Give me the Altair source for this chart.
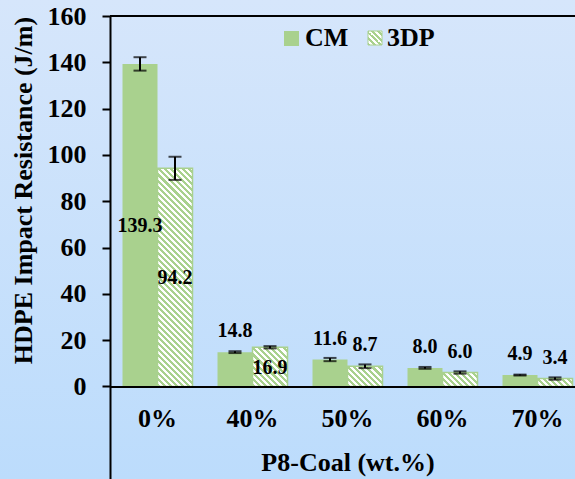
import altair as alt
import pandas as pd

# ---- data -------------------------------------------------------------
categories = ["0%", "40%", "50%", "60%", "70%"]
series = ["CM", "3DP"]
cm_values = [139.3, 14.8, 11.6, 8.0, 4.9]
cm_errors = [2.9, 0.4, 0.7, 0.4, 0.2]
dp_values = [94.2, 16.9, 8.7, 6.0, 3.4]
dp_errors = [5.0, 0.5, 0.8, 0.5, 0.5]
y_ticks = [0, 20, 40, 60, 80, 100, 120, 140, 160]

# ---- layout / style ---------------------------------------------------
FONT = "Liberation Serif"
GREEN = "#a9d18e"
PAD_LEFT, PAD_TOP = 110, 16
W, H = 465, 463               # visible plot area
X_SPAN = 475                  # band range (last group runs past the right edge)
Y_DOMAIN = [-40, 160]
PX_PER_UNIT = H / (Y_DOMAIN[1] - Y_DOMAIN[0])
STEP = X_SPAN / len(categories)
P_INNER = 25 / STEP
BAR_W = STEP * (1 - P_INNER) / len(series)
CENTERED = {("0%", "CM"), ("0%", "3DP"), ("40%", "3DP")}

rows = []
for s, vals, errs in (("CM", cm_values, cm_errors), ("3DP", dp_values, dp_errors)):
    for c, v, e in zip(categories, vals, errs):
        rows.append({
            "category": c, "series": s, "value": v,
            "lo": v - e, "hi": v + e,
            "place": "center" if (c, s) in CENTERED else "above",
        })
df = pd.DataFrame(rows)
one = pd.DataFrame({"k": [0]})


def hatch(w, h, period=6.0, color=GREEN):
    """Diagonal white stripes as a hard-stop linear gradient over a w x h box."""
    k = (w + h) / (w * w + h * h)
    n = max(1, round((w + h) / period))
    stops = []
    for i in range(n):
        a, b, c = i / n, (i + 0.5) / n, (i + 1) / n
        stops += [
            alt.GradientStop(offset=a, color=color),
            alt.GradientStop(offset=b, color=color),
            alt.GradientStop(offset=b, color="white"),
            alt.GradientStop(offset=c, color="white"),
        ]
    return alt.Gradient(gradient="linear", x1=0, y1=1, x2=w * k, y2=1 - h * k, stops=stops)


x_enc = alt.X(
    "category:N",
    sort=categories,
    scale=alt.Scale(domain=categories, range=[0, X_SPAN],
                    paddingInner=P_INNER, paddingOuter=P_INNER / 2),
    axis=alt.Axis(
        orient="bottom", offset=-H * 40 / 200, zindex=1,
        domain=True, domainColor="black", domainWidth=2,
        ticks=False, tickSize=0, grid=False,
        labelAngle=0, labelFont=FONT, labelFontSize=26, labelFontWeight="bold",
        labelColor="black", labelPadding=19,
        title="P8-Coal (wt.%)", titleFont=FONT, titleFontSize=26,
        titleFontWeight="bold", titleColor="black", titlePadding=18,
    ),
)
xo_enc = alt.XOffset("series:N", sort=series,
                     scale=alt.Scale(domain=series, paddingInner=0, paddingOuter=0))
y_scale = alt.Scale(domain=Y_DOMAIN, nice=False, zero=False)
y_axis = alt.Axis(
    values=y_ticks, grid=False, zindex=1,
    domainColor="black", domainWidth=2,
    tickColor="black", tickWidth=2, tickSize=8,
    labelFont=FONT, labelFontSize=26, labelFontWeight="bold", labelColor="black",
    labelPadding=16,
    title="HDPE Impact Resistance (J/m)", titleFont=FONT, titleFontSize=26,
    titleFontWeight="bold", titleColor="black",
    titleAngle=270, titleAlign="center", titleBaseline="middle",
    titleX=23 - PAD_LEFT, titleY=190 - PAD_TOP,
)

base = alt.Chart(df)

# page background
background = alt.Chart(one).mark_rect(
    fill=alt.Gradient(gradient="linear", x1=0, y1=0, x2=0, y2=1,
                      stops=[alt.GradientStop(offset=0, color="#d6e6fb"),
                             alt.GradientStop(offset=1, color="#bcdcfc")])
).encode(x=alt.value(-PAD_LEFT), x2=alt.value(W), y=alt.value(-PAD_TOP), y2=alt.value(H))

cm_bars = base.transform_filter(alt.datum.series == "CM").mark_bar(color=GREEN).encode(
    x=x_enc, xOffset=xo_enc,
    y=alt.Y("value:Q", scale=y_scale, axis=y_axis), y2=alt.datum(0),
)

dp_layers = []
for c, v in zip(categories, dp_values):
    dp_layers.append(
        base.transform_filter((alt.datum.series == "3DP") & (alt.datum.category == c))
        .mark_bar(fill=hatch(BAR_W, v * PX_PER_UNIT), stroke=GREEN, strokeWidth=1.5)
        .encode(x=x_enc, xOffset=xo_enc, y=alt.Y("value:Q", scale=y_scale), y2=alt.datum(0))
    )

err_rule = base.mark_rule(color="black", strokeWidth=2).encode(
    x=x_enc, xOffset=xo_enc, y=alt.Y("lo:Q", scale=y_scale), y2="hi:Q")
cap_lo = base.mark_tick(color="black", size=13, thickness=2, orient="horizontal").encode(
    x=x_enc, xOffset=xo_enc, y=alt.Y("lo:Q", scale=y_scale))
cap_hi = base.mark_tick(color="black", size=13, thickness=2, orient="horizontal").encode(
    x=x_enc, xOffset=xo_enc, y=alt.Y("hi:Q", scale=y_scale))

lab_style = dict(font=FONT, fontSize=20, fontWeight="bold", color="black",
                 align="center", baseline="alphabetic")
labels_center = base.transform_filter(alt.datum.place == "center").transform_calculate(
    mid="datum.value / 2").mark_text(dy=7, **lab_style).encode(
    x=x_enc, xOffset=xo_enc, y=alt.Y("mid:Q", scale=y_scale),
    text=alt.Text("value:Q", format=".1f"))
labels_above = base.transform_filter(alt.datum.place == "above").mark_text(
    dy=-15, **lab_style).encode(
    x=x_enc, xOffset=xo_enc, y=alt.Y("value:Q", scale=y_scale),
    text=alt.Text("value:Q", format=".1f"))

top_line = alt.Chart(one).mark_rule(color="black", strokeWidth=2).encode(
    y=alt.datum(160), x=alt.value(0), x2=alt.value(X_SPAN))

# legend
leg_cm = alt.Chart(one).mark_rect(color=GREEN).encode(
    x=alt.value(174), x2=alt.value(189), y=alt.value(15), y2=alt.value(30))
leg_dp = alt.Chart(one).mark_rect(fill=hatch(14, 14), stroke=GREEN, strokeWidth=1).encode(
    x=alt.value(258), x2=alt.value(272), y=alt.value(15), y2=alt.value(29))
leg_style = dict(font=FONT, fontSize=26, fontWeight="bold", color="black",
                 align="left", baseline="alphabetic")
leg_cm_t = alt.Chart(one).mark_text(text="CM", **leg_style).encode(
    x=alt.value(195), y=alt.value(30))
leg_dp_t = alt.Chart(one).mark_text(text="3DP", **leg_style).encode(
    x=alt.value(277), y=alt.value(30))

chart = alt.layer(
    background, cm_bars, *dp_layers, err_rule, cap_lo, cap_hi,
    labels_center, labels_above, top_line, leg_cm, leg_dp, leg_cm_t, leg_dp_t,
).properties(
    width=W, height=H,
    autosize=alt.AutoSizeParams(type="none"),
    padding={"left": PAD_LEFT, "top": PAD_TOP, "right": 0, "bottom": 0},
    background="#c9e1fb",
).configure_view(stroke="transparent")

chart.save("out.html", embed_options={"renderer": "svg", "actions": False})
